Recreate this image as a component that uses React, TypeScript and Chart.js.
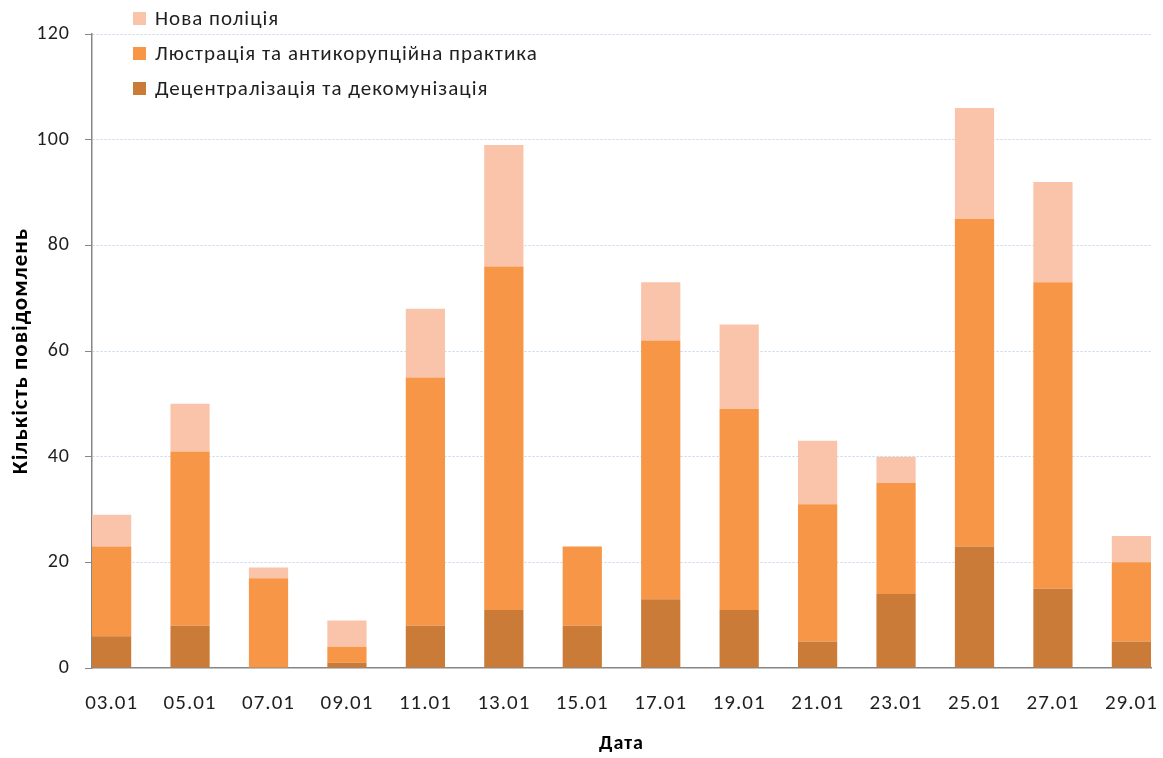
import React, { useEffect, useRef } from "react";
import { Chart, registerables } from "chart.js";

Chart.register(...registerables);

const categories = ["03.01", "05.01", "07.01", "09.01", "11.01", "13.01", "15.01", "17.01", "19.01", "21.01", "23.01", "25.01", "27.01", "29.01"];
const decentralization = [6, 8, 0, 1, 8, 11, 8, 13, 11, 5, 14, 23, 15, 5];
const lustration = [17, 33, 17, 3, 47, 65, 15, 49, 38, 26, 21, 62, 58, 15];
const police = [6, 9, 2, 5, 13, 23, 0, 11, 16, 12, 5, 21, 19, 5];
const yTicks = [0, 20, 40, 60, 80, 100, 120];

const FONT = "Carlito, 'Noto Sans', sans-serif";

const spacingPlugin = {
  id: "letterSpacing",
  beforeDraw(chart: any) {
    (chart.ctx as any).letterSpacing = "1px";
  },
};

const legendPlugin = {
  id: "customLegend",
  afterDraw(chart: any) {
    const ctx = chart.ctx;
    const ds = chart.data.datasets;
    ctx.save();
    (ctx as any).letterSpacing = "1px";
    ctx.font = `21px ${FONT}`;
    ctx.textBaseline = "middle";
    ctx.textAlign = "left";
    const order = [...ds].reverse();
    order.forEach((d: any, i: number) => {
      const cy = 18.5 + i * 35;
      ctx.fillStyle = d.backgroundColor;
      ctx.fillRect(133, cy - 6.5, 13, 13);
      ctx.fillStyle = "#1F1F1F";
      ctx.fillText(d.label, 155, cy + 1);
    });
    ctx.restore();
  },
};

export default function App() {
  const ref = useRef<HTMLCanvasElement | null>(null);
  useEffect(() => {
    document.body.style.margin = "0";
    const toPts = (arr: number[]) => arr.map((v, i) => ({ x: i, y: v }));
    const chart = new Chart(ref.current as HTMLCanvasElement, {
      type: "bar",
      data: {
        datasets: [
          { label: "Децентралізація та декомунізація", data: toPts(decentralization), backgroundColor: "#CB7B38", borderWidth: 0 },
          { label: "Люстрація та антикорупційна практика", data: toPts(lustration), backgroundColor: "#F79646", borderWidth: 0 },
          { label: "Нова поліція", data: toPts(police), backgroundColor: "#FAC4AA", borderWidth: 0 },
        ] as any,
      },
      options: {
        responsive: false,
        animation: false,
        layout: { padding: { left: 0, top: 34, right: 12, bottom: 0 } },
        datasets: { bar: { barPercentage: 0.5, categoryPercentage: 1 } } as any,
        plugins: { legend: { display: false }, tooltip: { enabled: false } },
        scales: {
          x: {
            type: "linear",
            stacked: true,
            offset: false,
            min: -0.25,
            max: 13.25,
            afterFit: (s: any) => {
              s.height = 90;
              s.paddingLeft = 0;
              s.paddingRight = 0;
            },
            grid: { display: false, drawTicks: false, offset: false },
            border: { display: true, color: "#868686", width: 1.5 },
            ticks: {
              stepSize: 1,
              includeBounds: false,
              autoSkip: false,
              maxRotation: 0,
              minRotation: 0,
              padding: 23,
              color: "#1F1F1F",
              font: { family: FONT, size: 21 },
              callback: (v: any) => categories[v] ?? "",
            },
            title: {
              display: true,
              text: "Дата",
              color: "#000000",
              font: { family: FONT, size: 20, weight: "bold" },
              padding: { top: 0, bottom: 2 },
            },
          } as any,
          y: {
            stacked: true,
            min: 0,
            max: 120,
            afterFit: (s: any) => {
              s.width = 92;
              s.paddingTop = 0;
              s.paddingBottom = 0;
            },
            afterBuildTicks: (s: any) => { s.ticks = yTicks.map((v) => ({ value: v })); },
            grid: {
              color: (c: any) => (c.tick && c.tick.value === 0 ? "rgba(0,0,0,0)" : "#C3D5EE"),
              tickColor: "#868686",
              tickLength: 7,
              lineWidth: 1,
            },
            border: { display: true, color: "#868686", width: 1.5, dash: [2, 2] },
            ticks: {
              padding: 15,
              color: "#1F1F1F",
              font: { family: FONT, size: 20 },
            },
            title: {
              display: true,
              text: "Кількість повідомлень",
              color: "#000000",
              font: { family: FONT, size: 23, weight: "bold" },
              padding: { top: 7, bottom: 0 },
            },
          } as any,
        },
      },
      plugins: [spacingPlugin, legendPlugin],
    });
    return () => chart.destroy();
  }, []);
  return (
    <div style={{ position: "absolute", left: 0, top: 0, width: 1163, height: 758 }}>
      <canvas ref={ref} width={1163} height={758} />
    </div>
  );
}
